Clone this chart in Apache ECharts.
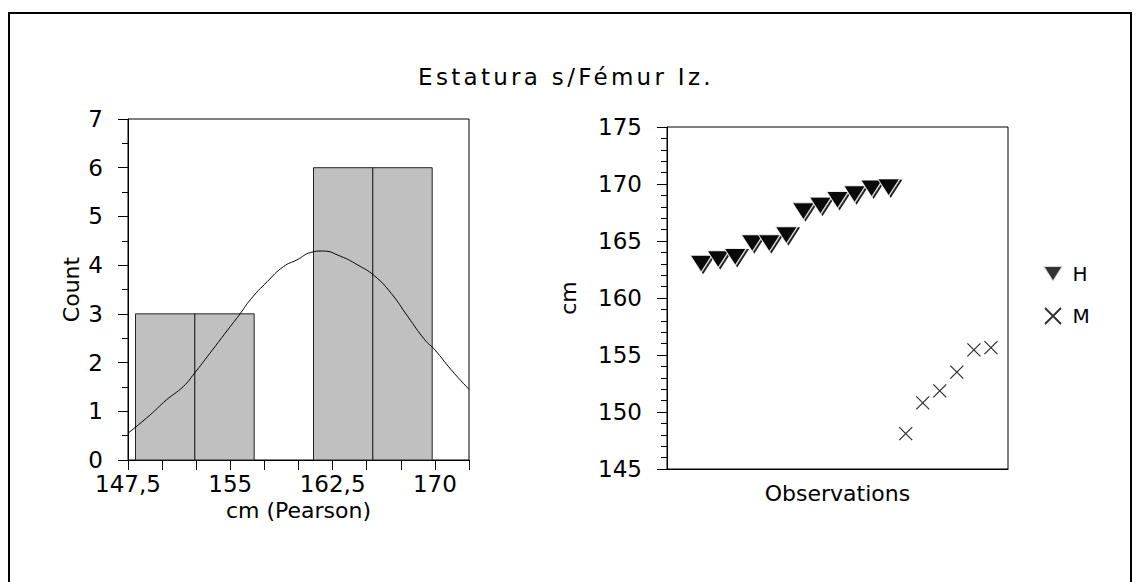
<!DOCTYPE html>
<html>
<head>
<meta charset="utf-8">
<script src="https://cdn.jsdelivr.net/npm/echarts@6/dist/echarts.min.js"></script>
<style>
  html, body { margin: 0; padding: 0; background: #fff; }
  #chart { width: 1143px; height: 582px; }
</style>
</head>
<body>
<div id="chart"></div>
<script>
  // titulo y etiquetas
  var titleText = 'Estatura s/Fémur Iz.';
  var histTickLabels = ['147,5', '155', '162,5', '170'];

  // histograma: bordes de clase y conteos
  var binEdges = [148.05, 152.4, 156.75, 161.1, 165.45, 169.8];
  var binCounts = [3, 3, 0, 6, 6];

  // curva de densidad
  var curveX = [147.5, 149.1, 150.3, 151.56, 152.37, 153.5, 155.0, 155.74, 156.47, 157.7,
    158.9, 159.9, 160.9, 161.76, 163.1, 164.3, 165.57, 166.8, 168.0, 169.25, 170.0, 171.2, 172.5];
  var curveY = [0.55, 0.92, 1.23, 1.51, 1.78, 2.19, 2.74, 3.01, 3.29, 3.66,
    3.97, 4.11, 4.26, 4.29, 4.18, 4.01, 3.78, 3.42, 2.95, 2.47, 2.26, 1.85, 1.45];

  // observaciones (cm), hombres y mujeres
  var obsH = [163.0, 163.4, 163.6, 164.8, 164.8, 165.5, 167.6, 168.1, 168.6, 169.1, 169.6, 169.7];
  var obsM = [148.1, 150.8, 151.85, 153.5, 155.45, 155.65];

  var font = 'DejaVu Sans';

  var histData = [];
  for (var i = 0; i < binCounts.length; i++) {
    histData.push([binEdges[i], binEdges[i + 1], binCounts[i]]);
  }
  var curveData = curveX.map(function (x, i) { return [x, curveY[i]]; });
  var hData = obsH.map(function (v, i) { return [i + 1, v]; });
  var mData = obsM.map(function (v, i) { return [obsH.length + i + 1, v]; });

  var myChart = echarts.init(document.getElementById('chart'), null, { renderer: 'svg' });

  var options = {
    animation: false,
    backgroundColor: '#fff',
    textStyle: { fontFamily: font, color: '#000' },
    grid: [
      { left: 128, top: 119, width: 341, height: 341, show: true, borderColor: '#000', borderWidth: 1 },
      { left: 667, top: 127, width: 341, height: 342, show: true, borderColor: '#000', borderWidth: 1 }
    ],
    legend: {
      orient: 'vertical',
      left: 1042,
      top: 264,
      padding: 0,
      itemWidth: 21,
      itemHeight: 16,
      itemGap: 22,
      data: ['H', 'M'],
      textStyle: { fontFamily: font, fontSize: 20, color: '#000', padding: [0, 0, 0, 4] }
    },
    xAxis: [
      {
        gridIndex: 0,
        type: 'value',
        min: 147.5,
        max: 172.5,
        interval: 2.5,
        name: 'cm (Pearson)',
        nameLocation: 'middle',
        nameGap: 34,
        nameTextStyle: { fontFamily: font, fontSize: 22, color: '#000' },
        axisLine: { onZero: false, lineStyle: { color: '#000', width: 1 } },
        axisTick: { length: 10, lineStyle: { color: '#000' } },
        splitLine: { show: false },
        axisLabel: {
          margin: 12,
          fontFamily: font,
          fontSize: 23,
          color: '#000',
          formatter: function (v) {
            var s = String(v).replace('.', ',');
            return histTickLabels.indexOf(s) >= 0 ? s : '';
          }
        }
      },
      {
        gridIndex: 1,
        type: 'value',
        min: -1,
        max: 19,
        name: 'Observations',
        nameLocation: 'middle',
        nameGap: 13,
        nameTextStyle: { fontFamily: font, fontSize: 22, color: '#000' },
        axisLine: { onZero: false, lineStyle: { color: '#000', width: 1 } },
        axisTick: { show: false },
        axisLabel: { show: false },
        splitLine: { show: false }
      }
    ],
    yAxis: [
      {
        gridIndex: 0,
        type: 'value',
        min: 0,
        max: 7,
        interval: 1,
        name: 'Count',
        nameLocation: 'middle',
        nameGap: 46,
        nameTextStyle: { fontFamily: font, fontSize: 22, color: '#000' },
        axisLine: { show: true, onZero: false, lineStyle: { color: '#000', width: 1 } },
        axisTick: { show: true, length: 10, lineStyle: { color: '#000' } },
        minorTick: { show: true, splitNumber: 2, length: 6, lineStyle: { color: '#000' } },
        splitLine: { show: false },
        axisLabel: { margin: 25, fontFamily: font, fontSize: 23, color: '#000' }
      },
      {
        gridIndex: 1,
        type: 'value',
        min: 145,
        max: 175,
        interval: 5,
        name: 'cm',
        nameLocation: 'middle',
        nameGap: 88,
        nameTextStyle: { fontFamily: font, fontSize: 22, color: '#000' },
        axisLine: { show: true, onZero: false, lineStyle: { color: '#000', width: 1 } },
        axisTick: { show: true, length: 10, lineStyle: { color: '#000' } },
        minorTick: { show: true, splitNumber: 5, length: 6, lineStyle: { color: '#000' } },
        splitLine: { show: false },
        axisLabel: { margin: 25, fontFamily: font, fontSize: 23, color: '#000' }
      }
    ],
    series: [
      {
        type: 'custom',
        name: 'hist',
        xAxisIndex: 0,
        yAxisIndex: 0,
        data: histData,
        encode: { x: [0, 1], y: 2 },
        renderItem: function (params, api) {
          var c = api.value(2);
          if (!c) return null;
          var p0 = api.coord([api.value(0), c]);
          var p1 = api.coord([api.value(1), 0]);
          return {
            type: 'rect',
            shape: { x: p0[0], y: p0[1], width: p1[0] - p0[0], height: p1[1] - p0[1] },
            style: { fill: '#c0c0c0', stroke: '#222', lineWidth: 1 }
          };
        }
      },
      {
        type: 'line',
        name: 'curve',
        xAxisIndex: 0,
        yAxisIndex: 0,
        data: curveData,
        smooth: true,
        showSymbol: false,
        symbol: 'none',
        lineStyle: { color: '#000', width: 1 },
        z: 3
      },
      {
        type: 'scatter',
        name: 'H',
        xAxisIndex: 1,
        yAxisIndex: 1,
        data: hData,
        symbol: 'path://M0,0L20,0L10,16Z',
        symbolSize: [22, 17],
        itemStyle: {
          color: '#000',
          borderColor: '#fff',
          borderWidth: 1,
          shadowColor: '#000',
          shadowBlur: 0,
          shadowOffsetX: 2,
          shadowOffsetY: 1
        }
      },
      {
        type: 'scatter',
        name: 'M',
        xAxisIndex: 1,
        yAxisIndex: 1,
        data: mData,
        symbol: 'path://M0,0L10,10M10,0L0,10',
        symbolSize: 13,
        itemStyle: { color: 'transparent', borderColor: '#000', borderWidth: 1.3 }
      }
    ],
    graphic: [
      {
        type: 'text',
        x: 566,
        y: 77,
        style: {
          text: titleText,
          align: 'center',
          verticalAlign: 'middle',
          font: '23px "DejaVu Sans"',
          fill: '#000'
        }
      },
      {
        type: 'polyline',
        shape: { points: [[9, 600], [9, 13], [1131, 13], [1131, 600]] },
        style: { stroke: '#000', lineWidth: 2, fill: null }
      }
    ]
  };

  myChart.setOption(options);

  // el titulo original tiene las letras mas espaciadas
  var texts = document.querySelectorAll('#chart text');
  for (var k = 0; k < texts.length; k++) {
    if (texts[k].textContent === titleText) {
      texts[k].style.letterSpacing = '3.3px';
    }
  }
</script>
</body>
</html>
